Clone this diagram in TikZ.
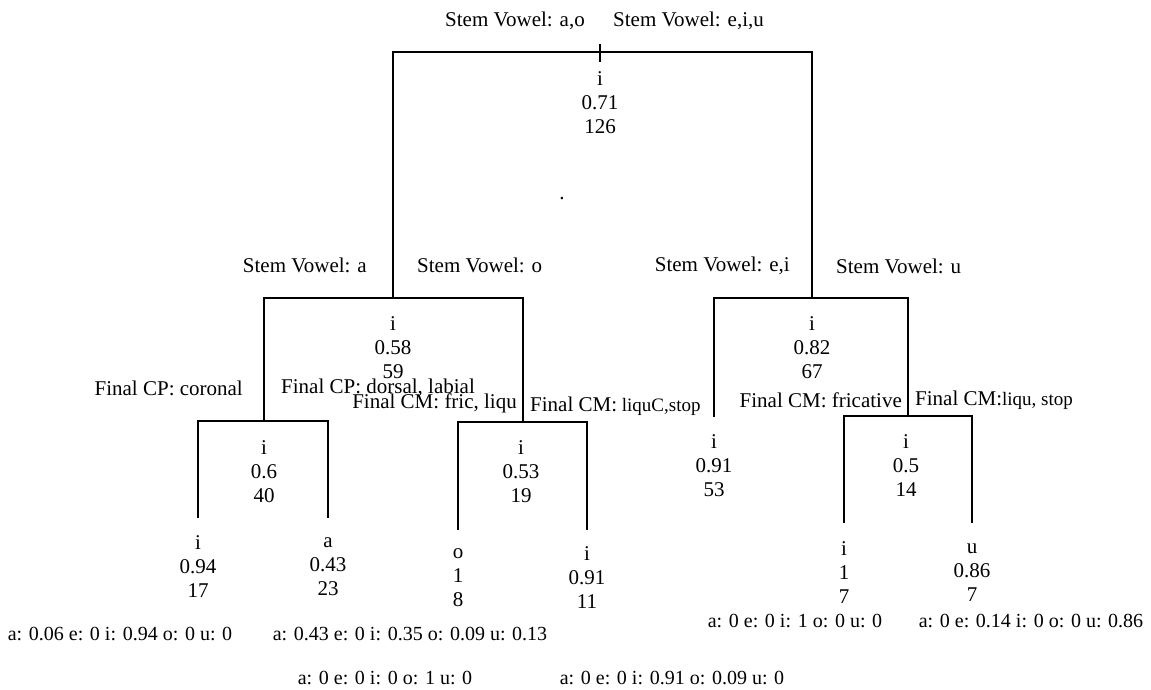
\documentclass[tikz,border=0pt]{standalone}
\usepackage{fontspec}
\setmainfont{Liberation Serif}
\begin{document}
\begin{tikzpicture}[x=1pt,y=-1pt,
  lbl/.style={inner sep=0pt, font=\fontsize{21}{24}\selectfont},
  dist/.style={inner sep=0pt, font=\fontsize{20}{24}\selectfont},
  val/.style={inner sep=0pt, align=center, font=\fontsize{21}{24}\selectfont},
  edge/.style={line width=1.3pt}]
\useasboundingbox (0,0) rectangle (1151,690);
\newcommand{\sm}[1]{{\fontsize{19}{22}\selectfont #1}}
% root
\coordinate (t0) at (600,44);
\coordinate (t1) at (600,62);
\coordinate (b0) at (600,52);
\node[val] (n0) at (600,103) {i\\0.71\\126};
\node[lbl,anchor=east] (l0a) at (585,21) {Stem Vowel: a,o};
\node[lbl,anchor=west] (l0b) at (613,21) {Stem Vowel: e,i,u};
\node[lbl] (dot) at (562,199) {.};
\draw[edge] (t0) -- (t1);
% level 2
\coordinate (bL) at (393,298);
\coordinate (bR) at (812,298);
\draw[edge] (bL) |- (b0) -| (bR);
\node[val] (nL) at (393,348) {i\\0.58\\59};
\node[val] (nR) at (812,348) {i\\0.82\\67};
\node[lbl,anchor=east] (lLa) at (367,265) {Stem Vowel: a};
\node[lbl,anchor=west] (lLb) at (417,265) {Stem Vowel: o};
\node[lbl,anchor=east] (lRa) at (790,266) {Stem Vowel: e,i};
\node[lbl,anchor=west] (lRb) at (836,266) {Stem Vowel: u};
% level 3
\coordinate (bLL) at (264,421);
\coordinate (bLR) at (523,422);
\coordinate (bRL) at (714,417);
\coordinate (bRR) at (908,416);
\draw[edge] (bLL) |- (bL) -| (bLR);
\draw[edge] (bRL) |- (bR) -| (bRR);
\node[val] (nLL) at (264,472) {i\\0.6\\40};
\node[val] (nLR) at (521,472) {i\\0.53\\19};
\node[val] (nRL) at (714,466) {i\\0.91\\53};
\node[val] (nRR) at (906,466) {i\\0.5\\14};
\node[lbl,anchor=east] (lLLa) at (243,388) {Final CP: coronal};
\node[lbl,anchor=west] (lLLb) at (281,388) {Final CP: dorsal, labial};
\node[lbl,anchor=east] (lLRa) at (517,403) {Final CM: fric, liqu};
\node[lbl,anchor=west] (lLRb) at (530,406) {Final CM:\sm{ liquC,stop}};
\node[lbl,anchor=east] (lRRa) at (902,400) {Final CM: fricative};
\node[lbl,anchor=west] (lRRb) at (915,400) {Final CM:\sm{liqu, stop}};
% leaves
\coordinate (f1) at (198,518);
\coordinate (f2) at (328,518);
\coordinate (f3) at (458,530);
\coordinate (f4) at (587,530);
\coordinate (f5) at (844,523);
\coordinate (f6) at (972,523);
\draw[edge] (f1) |- (bLL) -| (f2);
\draw[edge] (f3) |- (bLR) -| (f4);
\draw[edge] (f5) |- (bRR) -| (f6);
\node[val] (v1) at (198,567) {i\\0.94\\17};
\node[val] (v2) at (328,567) {a\\0.43\\23};
\node[val] (v3) at (458,578) {o\\1\\8};
\node[val] (v4) at (587,578) {i\\0.91\\11};
\node[val] (v5) at (844,573) {i\\1\\7};
\node[val] (v6) at (972,573) {u\\0.86\\7};
% distributions
\node[dist] (d1) at (120,634) {a: 0.06 e: 0 i: 0.94 o: 0 u: 0};
\node[dist] (d2) at (410,634) {a: 0.43 e: 0 i: 0.35 o: 0.09 u: 0.13};
\node[dist] (d3) at (385,678) {a: 0 e: 0 i: 0 o: 1 u: 0};
\node[dist] (d4) at (672,678) {a: 0 e: 0 i: 0.91 o: 0.09 u: 0};
\node[dist] (d5) at (795,621) {a: 0 e: 0 i: 1 o: 0 u: 0};
\node[dist] (d6) at (1031,621) {a: 0 e: 0.14 i: 0 o: 0 u: 0.86};
\end{tikzpicture}
\end{document}
